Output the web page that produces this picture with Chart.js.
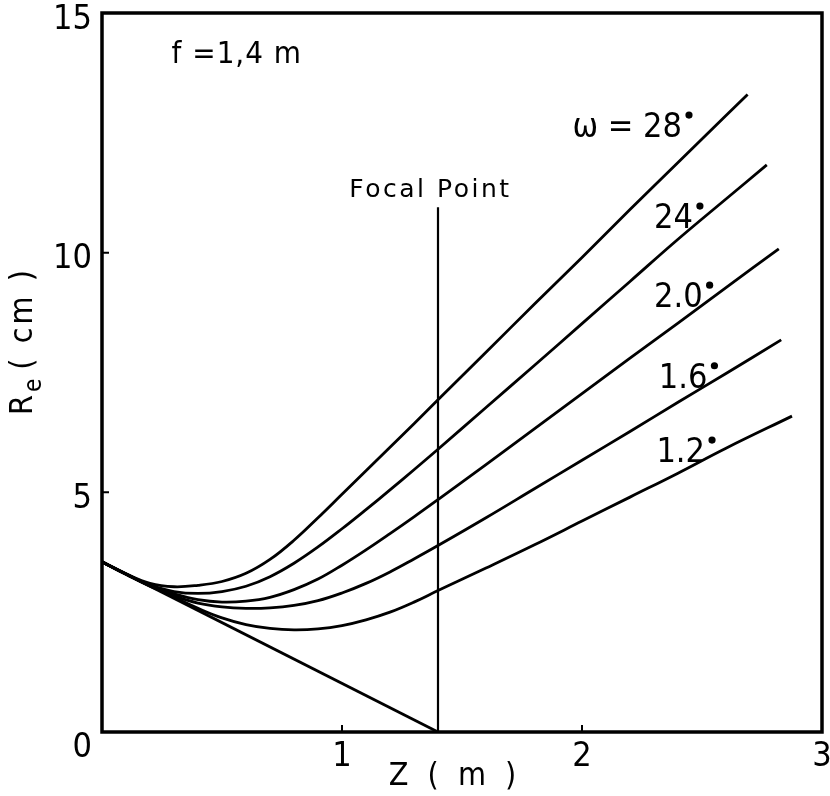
<!DOCTYPE html>
<html>
<head>
<meta charset="utf-8">
<title>Re vs Z</title>
<script src="https://cdn.jsdelivr.net/npm/chart.js@4.4.1/dist/chart.umd.min.js"></script>
<style>
  html, body { margin: 0; padding: 0; background: #fff; }
  #wrap { width: 830px; height: 796px; position: relative; }
</style>
</head>
<body>
<div id="wrap"><canvas id="chart"></canvas></div>
<script>
// Z positions (m) sampled along every curve; each curve then has its own end point
const zGrid = [0, 0.1, 0.2, 0.3, 0.4, 0.5, 0.6, 0.7, 0.8, 0.9, 1.0, 1.1, 1.2, 1.3, 1.4, 1.6, 1.8, 2.0, 2.2, 2.4, 2.6];
const zEnd = [2.69, 2.77, 2.82, 2.83, 2.875];

// Re (cm) for each divergence angle, same order as zGrid followed by the end point
const re28 = [3.55, 3.30, 3.10, 3.03, 3.06, 3.14, 3.31, 3.60, 4.00, 4.47, 4.96, 5.45, 5.94, 6.43, 6.93, 7.92, 8.92, 9.90, 10.90, 11.88, 12.86, 13.30];
const re24 = [3.55, 3.29, 3.07, 2.93, 2.89, 2.93, 3.04, 3.24, 3.52, 3.86, 4.24, 4.64, 5.05, 5.47, 5.90, 6.77, 7.64, 8.52, 9.40, 10.28, 11.12, 11.83];
const re20 = [3.55, 3.29, 3.05, 2.88, 2.76, 2.71, 2.73, 2.81, 2.97, 3.19, 3.48, 3.80, 4.14, 4.49, 4.85, 5.58, 6.32, 7.06, 7.80, 8.53, 9.27, 10.08];
const re16 = [3.55, 3.29, 3.04, 2.84, 2.69, 2.61, 2.58, 2.59, 2.64, 2.74, 2.90, 3.10, 3.34, 3.61, 3.89, 4.47, 5.07, 5.67, 6.27, 6.88, 7.48, 8.18];
const re12 = [3.55, 3.30, 3.05, 2.81, 2.58, 2.38, 2.24, 2.16, 2.13, 2.15, 2.22, 2.34, 2.50, 2.71, 2.95, 3.42, 3.90, 4.40, 4.90, 5.40, 5.92, 6.59];
const curveLabels = ['28', '24', '2.0', '1.6', '1.2'];

// geometric cone converging on the focus
const coneZ = [0, 1.4];
const coneRe = [3.55, 0];

// focal plane marker
const focalZ = 1.4;
const focalTop = 10.95;

const xTicks = [0, 1, 2, 3];
const yTicks = [0, 5, 10, 15];

const NARROW = "'Liberation Sans Narrow', 'DejaVu Sans Condensed', 'Liberation Sans', sans-serif";
const SANS = "'DejaVu Sans', 'Liberation Sans', sans-serif";

const toPoints = (zs, rs) => rs.map((r, i) => ({ x: zs[i], y: r }));

const curveSeries = [re28, re24, re20, re16, re12].map((rs, i) => ({
    label: curveLabels[i],
    data: toPoints(zGrid.concat([zEnd[i]]), rs),
    borderColor: '#000', borderWidth: 2.8,
    pointRadius: 0, fill: false,
    tension: 0.4,
}));

// where the angle labels sit, in data units (left edge, vertical middle)
const labelSpots = [
    { z: 1.96, r: 12.6 },
    { z: 2.30, r: 10.7 },
    { z: 2.30, r: 9.05 },
    { z: 2.32, r: 7.37 },
    { z: 2.31, r: 5.82 },
];

function degDot(ctx, x, y) {
    ctx.beginPath();
    ctx.arc(x, y, 3.6, 0, Math.PI * 2);
    ctx.fill();
}

const annotate = {
    id: 'annotate',
    afterDraw(chart) {
        const { ctx, chartArea: a, scales: { x, y } } = chart;
        ctx.save();
        ctx.fillStyle = '#000';
        ctx.strokeStyle = '#000';

        // frame
        ctx.lineWidth = 3.5;
        ctx.strokeRect(a.left, a.top, a.right - a.left, a.bottom - a.top);

        // inward tick marks
        ctx.lineWidth = 2;
        ctx.beginPath();
        xTicks.slice(1, -1).forEach(v => {
            const px = x.getPixelForValue(v);
            ctx.moveTo(px, a.bottom); ctx.lineTo(px, a.bottom - 7);
        });
        yTicks.slice(1, -1).forEach(v => {
            const py = y.getPixelForValue(v);
            ctx.moveTo(a.left, py); ctx.lineTo(a.left + 7, py);
        });
        ctx.stroke();

        // tick labels
        ctx.font = `34px ${NARROW}`;
        ctx.textBaseline = 'middle';
        ctx.textAlign = 'right';
        yTicks.forEach(v => {
            const drop = v === 0 ? 16 : 7;
            ctx.fillText(String(v), a.left - 10, y.getPixelForValue(v) + drop);
        });
        ctx.textAlign = 'center';
        xTicks.slice(1).forEach(v => {
            ctx.fillText(String(v), x.getPixelForValue(v), a.bottom + 25);
        });

        // axis titles
        ctx.font = `32px ${NARROW}`;
        ctx.letterSpacing = '5px';
        ctx.fillText('Z ( m )', 455, a.bottom + 45);
        ctx.save();
        ctx.translate(27, 341);
        ctx.rotate(-Math.PI / 2);
        ctx.textAlign = 'left';
        ctx.letterSpacing = '3px';
        const head = 'R';
        const tail = '( cm )';
        ctx.font = `32px ${NARROW}`;
        const wHead = ctx.measureText(head).width;
        ctx.font = `24px ${NARROW}`;
        const wSub = ctx.measureText('e').width;
        ctx.font = `32px ${NARROW}`;
        const wTail = ctx.measureText(tail).width;
        const total = wHead + wSub + 6 + wTail;
        let cx = -total / 2;
        ctx.fillText(head, cx, -3);
        cx += wHead;
        ctx.font = `24px ${NARROW}`;
        ctx.fillText('e', cx, 8);
        cx += wSub + 6;
        ctx.font = `32px ${NARROW}`;
        ctx.fillText(tail, cx, -3);
        ctx.restore();

        // focal length note
        ctx.letterSpacing = '1px';
        ctx.textAlign = 'left';
        ctx.font = `31px ${NARROW}`;
        ctx.fillText('f =1,4 m', x.getPixelForValue(0.29), y.getPixelForValue(14.12));

        // focal point caption, "P" stem sitting on the focal line
        ctx.font = `25px ${SANS}`;
        ctx.letterSpacing = '2.5px';
        const fx = x.getPixelForValue(focalZ);
        const fy = y.getPixelForValue(focalTop) - 17;
        const wFocal = ctx.measureText('Focal ').width;
        ctx.fillText('Focal Point', fx - wFocal - 1, fy);

        // divergence angle labels
        ctx.letterSpacing = '0px';
        curveLabels.forEach((t, i) => {
            const s = labelSpots[i];
            const lx = x.getPixelForValue(s.z);
            const ly = y.getPixelForValue(s.r);
            ctx.font = `34px ${NARROW}`;
            const text = i === 0 ? 'ω = ' + t : t;
            ctx.fillText(text, lx, ly);
            const w = ctx.measureText(text).width;
            degDot(ctx, lx + w + 7, ly - 13);
        });
        ctx.restore();
    }
};

new Chart(document.getElementById('chart'), {
    type: 'scatter',
    data: {
        datasets: [
            ...curveSeries,
            {
                label: 'cone',
                data: toPoints(coneZ, coneRe),
                borderColor: '#000', borderWidth: 2.8, pointRadius: 0, showLine: true,
            },
            {
                label: 'focal plane',
                data: [{ x: focalZ, y: 0 }, { x: focalZ, y: focalTop }],
                borderColor: '#000', borderWidth: 2.2, pointRadius: 0, showLine: true,
            },
        ]
    },
    options: {
        responsive: true, maintainAspectRatio: false, animation: false,
        devicePixelRatio: 1,
        showLine: true,
        layout: { padding: { left: 102, top: 13, right: 8, bottom: 64 } },
        scales: {
            x: { type: 'linear', min: 0, max: 3, display: false },
            y: { type: 'linear', min: 0, max: 15, display: false },
        },
        plugins: { legend: { display: false }, tooltip: { enabled: false } }
    },
    plugins: [annotate]
});
</script>
</body>
</html>
